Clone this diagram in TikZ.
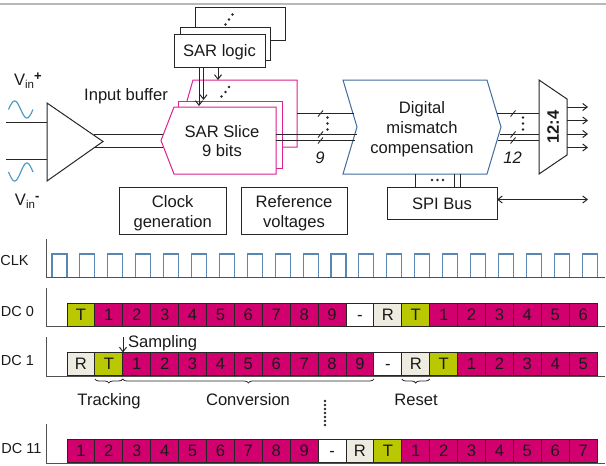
\documentclass[tikz,border=0pt]{standalone}
\usepackage{fontspec}
\setmainfont{Liberation Sans}
\usetikzlibrary{arrows.meta,decorations.pathreplacing}
\definecolor{txt}{HTML}{1A1A1A}
\definecolor{magc}{HTML}{D2006F}
\definecolor{olv}{HTML}{B9C800}
\definecolor{rst}{HTML}{EEECE1}
\definecolor{pinkln}{HTML}{DE2090}
\definecolor{bluln}{HTML}{3F6C9E}
\definecolor{clkln}{HTML}{5A86B2}
\definecolor{sinec}{HTML}{4C9DC4}
\definecolor{lnc}{HTML}{262626}
\newcommand{\fs}{\fontsize{16.6}{19.8}\selectfont}
\tikzset{
  x=1pt,y=-1pt,
  every node/.style={text=txt,font=\fs,inner sep=0pt,outer sep=0pt},
  wire/.style={draw=lnc,line width=1pt},
  arr/.style={wire,-{Straight Barb[length=4.5pt,width=7pt]}},
  darr/.style={wire,{Straight Barb[length=4.5pt,width=7pt]}-{Straight Barb[length=4.5pt,width=7pt]}},
  blockbox/.style={draw=lnc,line width=1pt,fill=white,anchor=north west},
  cellbox/.style={draw=lnc,line width=0.9pt,minimum width=27.9pt,minimum height=22.5pt,anchor=north west,text height=11.5pt,text depth=0pt},
  magcell/.style={cellbox,fill=magc},
  olvcell/.style={cellbox,fill=olv},
  rstcell/.style={cellbox,fill=rst},
  gapcell/.style={cellbox,fill=white},
  sliceln/.style={draw=pinkln,line width=1pt},
  axisln/.style={draw=lnc!80,line width=1pt},
  dotfill/.style={circle,fill=lnc,minimum size=2.8pt},
  brc/.style={draw=lnc,line width=0.8pt,decorate,decoration={brace,mirror,amplitude=4pt}},
  rowlabel/.style={anchor=east,font=\fontsize{14.5}{17}\selectfont},
}
\begin{document}
\begin{tikzpicture}
\useasboundingbox (0,0) rectangle (606,466);
\draw[color=black!28,line width=1.4pt] (0,4) -- (606,4);

% SAR logic stack
\node[blockbox,minimum width=90pt,minimum height=33pt] (logicB) at (195,7) {};
\node[blockbox,minimum width=90pt,minimum height=33pt] (logicM) at (180,27) {};
\node[blockbox,minimum width=91pt,minimum height=33pt,text height=11.5pt,text depth=0pt] (logic) at (174,34) {SAR logic};
\foreach \a/\b [count=\i] in {225.5/24.5,229/19.5,232.5/14.5}
  \node[dotfill] (ld\i) at (\a,\b) {};

% slices
\path[sliceln] (187,101) -- (193,80) -- (297,80) -- (297,147) -- (282,147);
\path[sliceln,fill=white] (178,107) -- (178,101) -- (282,101) -- (282,168) -- (276,168);
\path[sliceln,fill=white] (174,107) -- (276,107) -- (276,174) -- (174,174) -- (161,140.5) -- cycle;
\node[align=center] (slice) at (222,141) {SAR Slice\\9 bits};
\foreach \a/\b [count=\i] in {221.5/96.5,225.5/92,229/87}
  \node[dotfill] (sd\i) at (\a,\b) {};

\coordinate (sl1) at (199,106);
\coordinate (sl2) at (203.5,100);
\coordinate (sl3) at (218,80);
\draw[arr] (logic.south -| sl1) -- (sl1);
\draw[arr] (logic.south -| sl2) -- (sl2);
\draw[arr] (logic.south -| sl3) -- (sl3);

% buffer
\node (ibl) at (126,96) {Input buffer};
\node[anchor=west] (vp) at (14,81) {V{\raisebox{-0.35ex}{\fontsize{11.5}{11.5}\selectfont in}}\raisebox{0.55ex}{\fontsize{13}{13}\selectfont\bfseries +}};
\node[anchor=west] (vm) at (15,201) {V{\raisebox{-0.35ex}{\fontsize{11.5}{11.5}\selectfont in}}\raisebox{0.55ex}{\fontsize{13}{13}\selectfont\bfseries -}};
\draw[sinec,line width=1.2pt] plot[domain=0:360,samples=40,variable=\t] ({8.5+24.5*\t/360},{109.5-8.5*sin(\t)});
\draw[sinec,line width=1.2pt] plot[domain=0:360,samples=40,variable=\t] ({8.5+24.5*\t/360},{172-9*sin(\t+180)});
\coordinate (inP) at (6,122);
\coordinate (inM) at (6,159);
\coordinate (bufP) at (47,122);
\coordinate (bufM) at (47,159);
\coordinate (outP) at (94,134.5);
\coordinate (outM) at (94,147);
\coordinate (slP) at (163,134.5);
\coordinate (slM) at (163,147);
\draw[wire] (inP) -- (bufP);
\draw[wire] (inM) -- (bufM);
\draw[wire] (outP) -- (slP);
\draw[wire] (outM) -- (slM);
\draw[draw=lnc,line width=1pt,fill=white] (47,103) -- (103,141.5) -- (47,181) -- cycle;

% blocks
\node[blockbox,minimum width=106.5pt,minimum height=47pt] (clk) at (119.5,187) {};
\node[align=center] (clkT) at ([yshift=-3pt]clk.center) {Clock\\generation};
\node[blockbox,minimum width=106pt,minimum height=47pt] (ref) at (241,187) {};
\node[align=center] (refT) at ([yshift=-3pt]ref.center) {Reference\\voltages};
\node[blockbox,minimum width=110pt,minimum height=32.5pt,text height=11.5pt,text depth=0pt] (spi) at (387,187) {SPI Bus};

% digital block
\path[draw=bluln,line width=1pt,fill=white] (343,80) -- (487,80) -- (501,127) -- (487,174) -- (343,174) -- (357,127) -- cycle;
\node[align=center] (dig) at (422,129.5) {Digital\\mismatch\\compensation};

% mux
\path[draw=lnc,line width=1pt,fill=white] (539,80) -- (567,99) -- (567,155) -- (539,174) -- cycle;
\node[rotate=90,font=\fs\bfseries] (mux) at (553,127) {12:4};

% buses
\coordinate (a1) at (297,113.5); \coordinate (a2) at (354,113.5);
\coordinate (b1) at (276,134.5); \coordinate (b2) at (357,134.5);
\coordinate (c1) at (276,140.5); \coordinate (c2) at (355,140.5);
\draw[wire] (a1) -- (a2);
\draw[wire] (b1) -- (b2);
\draw[wire] (c1) -- (c2);
\coordinate (d1) at (497,113.5); \coordinate (d2) at (539,113.5);
\coordinate (e1) at (499.5,134.5); \coordinate (e2) at (539,134.5);
\coordinate (f1) at (497.5,140.5); \coordinate (f2) at (539,140.5);
\draw[wire] (d1) -- (d2);
\draw[wire] (e1) -- (e2);
\draw[wire] (f1) -- (f2);
\foreach \x in {320.5,513}
  \foreach \y in {113.5,134.5,140.5}
    \draw[draw=lnc,line width=0.9pt] (\x-2.5,\y+3) -- (\x+2.5,\y-3);
\foreach \y [count=\i] in {117.5,123.5,129.5} {
  \node[dotfill] (bd\i) at (327.5,\y) {};
  \node[dotfill] (cd\i) at (523,\y) {};
}
\node[font=\fs\itshape] (n9) at (320,157.5) {9};
\node[font=\fs\itshape] (n12) at (512.5,157.5) {12};

% mux outputs
\foreach \y [count=\i] in {107,120.5,134,147.5} {
  \coordinate (ms\i) at (567,\y);
  \coordinate (me\i) at (588,\y);
  \draw[arr] (ms\i) -- (me\i);
}

% SPI connections
\coordinate (dg1) at (415.5,174);
\coordinate (dg2) at (454.5,174);
\coordinate (dg3) at (460.5,174);
\draw[wire] (dg1) -- (dg1 |- spi.north);
\draw[wire] (dg2) -- (dg2 |- spi.north);
\draw[wire] (dg3) -- (dg3 |- spi.north);
\foreach \x [count=\i] in {432,437.5,443}
  \node[dotfill] (spd\i) at (\x,180) {};
\coordinate (spiR) at (588,199.5);
\draw[darr] (spi.east |- spiR) -- (spiR);

% timing axes
\foreach \t/\b in {239/277,288/326,337/376,424/463} {
  \draw[axisln] (46,\t) -- (46,\b) -- (605,\b);
}
% clock
\foreach \i in {0,...,19} {
  \pgfmathsetmacro{\xa}{52+27.9*\i}
  \pgfmathsetmacro{\xb}{\xa+15}
  \draw[clkln,line width=1.1pt] (\xa,277) -- (\xa,254) -- (\xb,254) -- (\xb,277);
}
\node[rowlabel] (lclk) at (28.5,261) {CLK};
\node[rowlabel] (l0) at (34,312) {DC 0};
\node[rowlabel] (l1) at (34,361) {DC 1};
\node[rowlabel] (l11) at (41.5,449) {DC 11};

% row 0
\foreach \lab/\sty [count=\i from 0] in {T/olvcell,1/magcell,2/magcell,3/magcell,4/magcell,5/magcell,6/magcell,7/magcell,8/magcell,9/magcell,-/gapcell,R/rstcell,T/olvcell,1/magcell,2/magcell,3/magcell,4/magcell,5/magcell,6/magcell}
  \node[\sty] (ra\i) at ({67+27.9*\i},303.5) {\lab};
% row 1
\foreach \lab/\sty [count=\i from 0] in {R/rstcell,T/olvcell,1/magcell,2/magcell,3/magcell,4/magcell,5/magcell,6/magcell,7/magcell,8/magcell,9/magcell,-/gapcell,R/rstcell,T/olvcell,1/magcell,2/magcell,3/magcell,4/magcell,5/magcell}
  \node[\sty] (rb\i) at ({67+27.9*\i},352.5) {\lab};
% row 11
\foreach \lab/\sty [count=\i from 0] in {1/magcell,2/magcell,3/magcell,4/magcell,5/magcell,6/magcell,7/magcell,8/magcell,9/magcell,-/gapcell,R/rstcell,T/olvcell,1/magcell,2/magcell,3/magcell,4/magcell,5/magcell,6/magcell,7/magcell}
  \node[\sty] (rc\i) at ({67+27.9*\i},439.5) {\lab};

% annotations
\coordinate (smp) at (123,337);
\draw[arr] (smp) -- (smp |- rb2.north west);
\node[anchor=west] (samp) at (128,343) {Sampling};
\draw[brc] ([yshift=-4pt]rb1.south west) -- ([yshift=-4pt]rb1.south east);
\draw[brc] ([yshift=-4pt]rb2.south west) -- ([yshift=-4pt]rb10.south east);
\draw[brc] ([yshift=-4pt]rb12.south west) -- ([yshift=-4pt]rb12.south east);
\node (trk) at (109,401.5) {Tracking};
\node (cnv) at (248,400) {Conversion};
\node (rsn) at (416,400) {Reset};
\foreach \y [count=\i] in {401,405,409,413,417,421,425}
  \node[dotfill] (vd\i) at (325,\y) {};
\end{tikzpicture}
\end{document}
